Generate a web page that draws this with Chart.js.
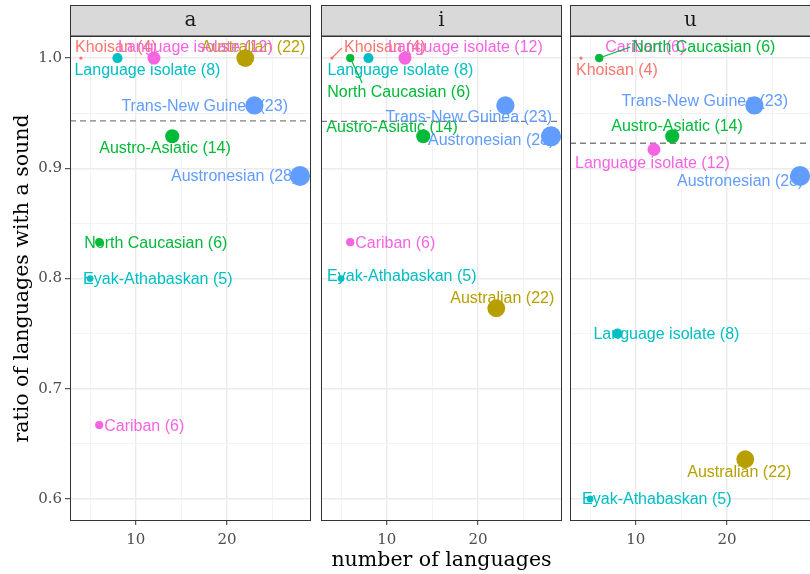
<!DOCTYPE html>
<html>
<head>
<meta charset="utf-8">
<script src="https://cdn.jsdelivr.net/npm/chart.js@4.4.0/dist/chart.umd.min.js"></script>
<style>
  html, body { margin: 0; padding: 0; background: #fff; overflow: hidden; }
  #wrap { position: relative; width: 810px; height: 574px; overflow: hidden; }
  canvas { position: absolute; top: 0; }
</style>
</head>
<body>
<div id="wrap">
  <canvas id="panelA" width="312" height="574" style="left:0px"></canvas>
  <canvas id="panelI" width="250" height="574" style="left:312px"></canvas>
  <canvas id="panelU" width="260" height="574" style="left:562px"></canvas>
</div>
<script>
// families, in the order ggplot draws them
const families = ['Australian', 'Austro-Asiatic', 'Austronesian', 'Cariban', 'Eyak-Athabaskan',
  'Khoisan', 'Language isolate', 'Language isolate', 'North Caucasian', 'Trans-New Guinea'];
const nLanguages = [22, 14, 28, 6, 5, 4, 8, 12, 6, 23];
const areas = ['Australia', 'Eurasia', 'Papunesia', 'South America', 'North America',
  'Africa', 'North America', 'South America', 'Eurasia', 'Papunesia'];

// ratio of languages with the sound, per panel
const ratioA = [1.0, 0.929, 0.893, 0.667, 0.8, 1.0, 1.0, 1.0, 0.833, 0.957];
const ratioI = [0.773, 0.929, 0.929, 0.833, 0.8, 1.0, 1.0, 1.0, 1.0, 0.957];
const ratioU = [0.636, 0.929, 0.893, 1.0, 0.6, 1.0, 0.75, 0.917, 1.0, 0.957];
const meanLines = [0.943, 0.9425, 0.9227];
const panelNames = ['a', 'i', 'u'];

const xBreaks = [5, 10, 15, 20, 25];
const xTickLabels = ['', '10', '', '20', ''];
const yBreaks = [0.6, 0.65, 0.7, 0.75, 0.8, 0.85, 0.9, 0.95, 1.0];
const yTickLabels = ['0.6', '', '0.7', '', '0.8', '', '0.9', '', '1.0'];

const areaColors = {
  'Africa': '#F8766D', 'Australia': '#B79F00', 'Eurasia': '#00BA38',
  'North America': '#00BFC4', 'Papunesia': '#619CFF', 'South America': '#F564E3'
};

// label placement (px from the point: left edge of text, text middle)
const labelOffsets = [
  [[-44, -11], [-73, 11], [-129, 0], [5, 0], [-7, 0], [-6, -11], [-43, 12], [-36, -11], [-15, 0], [-133, 0]],
  [[-46, -11], [-97, -10], [-123, 3], [5, 0], [-14, -3], [12, -11], [-41, 12], [-17, -11], [-23, 34], [-120, 11]],
  [[-58, 12], [-61, -11], [-123, 5], [6, -11], [-8, 0], [-5, 12], [-24, 0], [-79, 13], [33, -11], [-133, -5]]
];
// repel segments: index -> end point offset from the point
const segments = [
  {},
  { 5: [10, -10], 8: [12, 25] },
  { 8: [31, -11] }
];

const nMin = Math.min(...nLanguages), nMax = Math.max(...nLanguages);
function radiusFor(n) {
  return 1.67 * (1 + 5 * Math.sqrt((n - nMin) / (nMax - nMin)));
}

const serif = "'DejaVu Serif', 'Liberation Serif', serif";
const sans = "'Liberation Sans', Arial, sans-serif";

const decor = {
  id: 'decor',
  beforeDatasetsDraw(chart, args, opts) {
    const { ctx, chartArea: a, scales } = chart;
    const p = opts.panel;
    ctx.save();
    ctx.beginPath();
    ctx.rect(a.left, a.top, a.right - a.left, a.bottom - a.top);
    ctx.clip();
    // dashed mean line
    const yl = scales.y.getPixelForValue(meanLines[p]);
    ctx.strokeStyle = '#808080';
    ctx.lineWidth = 1.3;
    ctx.setLineDash([6, 4]);
    ctx.beginPath();
    ctx.moveTo(a.left, yl);
    ctx.lineTo(a.right, yl);
    ctx.stroke();
    ctx.setLineDash([]);
    // labels
    const ratios = chart.data.datasets[0].data;
    ctx.font = '16px ' + sans;
    ctx.textBaseline = 'middle';
    ctx.textAlign = 'left';
    ratios.forEach((pt, i) => {
      const px = scales.x.getPixelForValue(pt.x);
      const py = scales.y.getPixelForValue(pt.y);
      const col = areaColors[areas[i]];
      const seg = segments[p][i];
      if (seg) {
        ctx.strokeStyle = col;
        ctx.lineWidth = 1.2;
        ctx.beginPath();
        ctx.moveTo(px, py);
        ctx.lineTo(px + seg[0], py + seg[1]);
        ctx.stroke();
      }
      const off = labelOffsets[p][i];
      ctx.fillStyle = col;
      ctx.fillText(families[i] + ' (' + nLanguages[i] + ')', px + off[0], py + off[1] + 1);
    });
    ctx.restore();
  },
  afterDraw(chart, args, opts) {
    const { ctx, chartArea: a } = chart;
    ctx.save();
    ctx.strokeStyle = '#333333';
    ctx.lineWidth = 1;
    ctx.strokeRect(a.left + 0.5, a.top + 0.5, a.right - a.left - 1, a.bottom - a.top - 1);
    // facet strip
    ctx.fillStyle = '#D9D9D9';
    ctx.fillRect(a.left + 0.5, 5.5, a.right - a.left - 1, a.top - 5.5);
    ctx.strokeRect(a.left + 0.5, 5.5, a.right - a.left - 1, a.top - 5.5);
    ctx.fillStyle = '#1A1A1A';
    ctx.font = '20px ' + serif;
    ctx.textAlign = 'center';
    ctx.textBaseline = 'middle';
    ctx.fillText(panelNames[opts.panel], (a.left + a.right) / 2, 20.5);
    ctx.restore();
  }
};

function gridColor(labels, major, minor) {
  return ctx => (labels[ctx.index] ? major : minor);
}

function makePanel(canvasId, panel, ratios, yWidth, padRight) {
  const first = panel === 0;
  new Chart(document.getElementById(canvasId), {
    type: 'scatter',
    data: {
      datasets: [{
        data: nLanguages.map((n, i) => ({ x: n, y: ratios[i] })),
        pointBackgroundColor: areas.map(a => areaColors[a]),
        pointRadius: nLanguages.map(radiusFor),
        pointBorderWidth: 0,
        pointHoverRadius: nLanguages.map(radiusFor)
      }]
    },
    options: {
      responsive: false,
      animation: false,
      devicePixelRatio: 1,
      events: [],
      layout: { autoPadding: false, padding: { left: 0, right: padRight, top: 36, bottom: 0 } },
      plugins: {
        legend: { display: false },
        tooltip: { enabled: false },
        decor: { panel: panel }
      },
      scales: {
        x: {
          type: 'linear', min: 2.8, max: 29.2,
          afterBuildTicks: s => { s.ticks = xBreaks.map(v => ({ value: v })); },
          afterFit: s => { s.height = 53; },
          border: { display: false },
          grid: {
            color: gridColor(xTickLabels, '#EBEBEB', '#F2F2F2'),
            lineWidth: ctx => (xTickLabels[ctx.index] ? 1.4 : 0.9),
            tickColor: gridColor(xTickLabels, '#333333', 'rgba(0,0,0,0)'),
            tickLength: 4, tickWidth: 1
          },
          ticks: {
            autoSkip: false, maxRotation: 0, padding: 6,
            color: '#4D4D4D', font: { family: serif, size: 15 },
            callback: (v, i) => xTickLabels[i]
          },
          title: {
            display: panel === 1, text: 'number of languages',
            color: '#000', font: { family: serif, size: 20.5 },
            padding: { top: 1, bottom: 1 }
          }
        },
        y: {
          type: 'linear', min: 0.58, max: 1.02,
          afterBuildTicks: s => { s.ticks = yBreaks.map(v => ({ value: v })); },
          afterFit: s => { s.width = yWidth; },
          border: { display: false },
          grid: {
            color: gridColor(yTickLabels, '#EBEBEB', '#F2F2F2'),
            lineWidth: ctx => (yTickLabels[ctx.index] ? 1.4 : 0.9),
            tickColor: gridColor(yTickLabels, '#333333', 'rgba(0,0,0,0)'),
            drawTicks: first, tickLength: 5, tickWidth: 1
          },
          ticks: {
            display: first, autoSkip: false, padding: 3,
            color: '#4D4D4D', font: { family: serif, size: 15 },
            callback: (v, i) => yTickLabels[i]
          },
          title: {
            display: first, text: 'ratio of languages with a sound',
            color: '#000', font: { family: serif, size: 20.5 },
            padding: { top: 10, bottom: 0 }
          }
        }
      }
    },
    plugins: [decor]
  });
}

makePanel('panelA', 0, ratioA, 70, 1);
makePanel('panelI', 1, ratioI, 9, 0);
makePanel('panelU', 2, ratioU, 8, 11);
</script>
</body>
</html>
